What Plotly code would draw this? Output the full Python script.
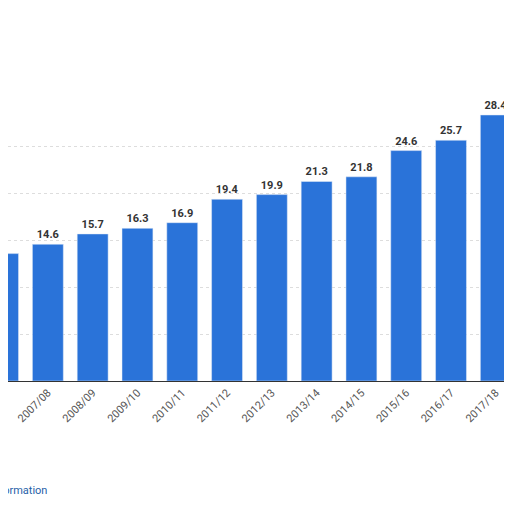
import plotly.graph_objects as go

years = ["2006/07","2007/08","2008/09","2009/10","2010/11","2011/12","2012/13",
         "2013/14","2014/15","2015/16","2016/17","2017/18","2018/19"]
values = [13.6,14.6,15.7,16.3,16.9,19.4,19.9,21.3,21.8,24.6,25.7,28.4,29.5]
labels = ["13.6","14.6","15.7","16.3","16.9","19.4","19.9","21.3","21.8","24.6","25.7","28.4","29.5"]

fig = go.Figure(go.Bar(
    x=list(range(len(years))), y=values, text=labels, textposition="outside",
    textfont=dict(family="Roboto", size=11, color="#333333", weight="bold"),
    marker_color="#2a73d9", width=0.69, cliponaxis=False))

fig.update_layout(
    width=512, height=512, paper_bgcolor="white", plot_bgcolor="white",
    margin=dict(l=0, r=0, t=92, b=139, autoexpand=False), showlegend=False,
    xaxis=dict(range=[0.11, 11.54], tickmode="array", tickvals=list(range(len(years))),
               ticktext=years, tickangle=-45, showgrid=False, showline=True,
               automargin=False, linecolor="#333333", linewidth=1,
               tickfont=dict(family="Roboto", size=11, color="#555555")),
    yaxis=dict(range=[0, 30], dtick=5, showticklabels=False, gridcolor="#dddddd",
               griddash="dot", zeroline=False, automargin=False),
    annotations=[
        dict(text="Additional Information", xref="paper", yref="paper", x=0.08, y=-0.39,
             xanchor="right", yanchor="middle", showarrow=False,
             font=dict(family="Roboto", size=11, color="#1f5fa8")),
        dict(text="© Statista", xref="paper", yref="paper", x=0.985, y=-0.29,
             xanchor="left", yanchor="middle", showarrow=False,
             font=dict(family="Roboto", size=11, color="#1f5fa8")),
    ])
fig.write_html("out.html")
